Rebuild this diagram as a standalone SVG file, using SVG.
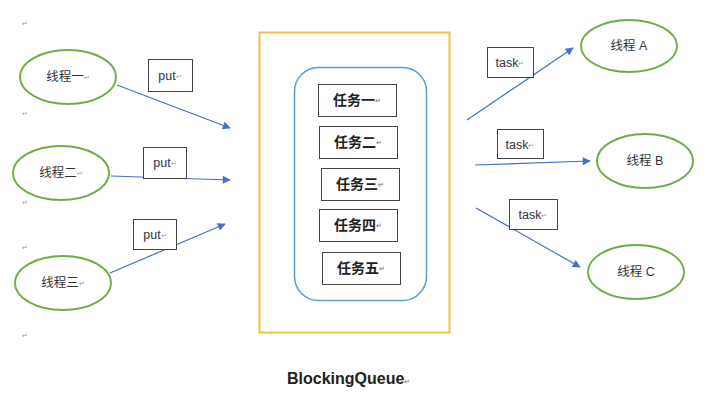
<svg xmlns="http://www.w3.org/2000/svg" width="712" height="403" viewBox="0 0 712 403">
<style>
text{font-family:"Liberation Sans","Noto Sans CJK SC",sans-serif;fill:#222}
.th{fill:none;stroke:#70AD47;stroke-width:1.8}
.lbl{fill:#fff;stroke:#444;stroke-width:1}
.t{font-size:12.5px;text-anchor:middle;dominant-baseline:central;fill:#333}
.tk{font-size:14px;font-weight:bold;text-anchor:middle;dominant-baseline:central}
.pm{font-size:7px;fill:#999}
.ar{fill:none;stroke:#4472C4;stroke-width:1.2;marker-end:url(#ah)}
</style>
<defs>
<marker id="ah" viewBox="0 0 10 10" refX="9" refY="5" markerWidth="9" markerHeight="8" markerUnits="userSpaceOnUse" orient="auto">
<path d="M0,0 L10,5 L0,10 Z" fill="#4472C4"/>
</marker>
</defs>
<rect width="712" height="403" fill="#fff"/>
<g id="marks">
<text class="pm" x="22" y="26">↵</text>
<text class="pm" x="22" y="116">↵</text>
<text class="pm" x="22" y="205">↵</text>
<text class="pm" x="22" y="250">↵</text>
<text class="pm" x="22" y="338">↵</text>
</g>
<g id="queue">
<rect x="259.5" y="32.5" width="190" height="300" fill="none" stroke="#F2C04A" stroke-width="2"/>
<rect x="294.5" y="67.5" width="132" height="233" rx="24" fill="none" stroke="#5B9BD5" stroke-width="1.5"/>
<text x="287" y="384" style="font-size:16px;font-weight:bold">BlockingQueue<tspan class="pm">↵</tspan></text>
</g>
<g id="task1"><rect class="lbl" x="318.5" y="84.5" width="78" height="32"/><text class="tk" x="357" y="100">任务一<tspan class="pm">↵</tspan></text></g>
<g id="task2"><rect class="lbl" x="319.5" y="126.5" width="78" height="32"/><text class="tk" x="358" y="142">任务二<tspan class="pm">↵</tspan></text></g>
<g id="task3"><rect class="lbl" x="321.5" y="168.5" width="78" height="32"/><text class="tk" x="360" y="184">任务三<tspan class="pm">↵</tspan></text></g>
<g id="task4"><rect class="lbl" x="319.5" y="209.5" width="78" height="32"/><text class="tk" x="358" y="225">任务四<tspan class="pm">↵</tspan></text></g>
<g id="task5"><rect class="lbl" x="322.5" y="252.5" width="78" height="32"/><text class="tk" x="361" y="268">任务五<tspan class="pm">↵</tspan></text></g>
<g id="t1"><ellipse class="th" cx="68" cy="77" rx="48" ry="27"/><text class="t" x="68" y="77">线程一<tspan class="pm">↵</tspan></text></g>
<g id="t2"><ellipse class="th" cx="61" cy="173" rx="48" ry="27"/><text class="t" x="61" y="173">线程二<tspan class="pm">↵</tspan></text></g>
<g id="t3"><ellipse class="th" cx="63" cy="283" rx="48" ry="27"/><text class="t" x="63" y="283">线程三<tspan class="pm">↵</tspan></text></g>
<g id="tA"><ellipse class="th" cx="629" cy="46" rx="48" ry="26"/><text class="t" x="629" y="46">线程 A</text></g>
<g id="tB"><ellipse class="th" cx="645" cy="161" rx="48" ry="27"/><text class="t" x="645" y="161">线程 B</text></g>
<g id="tC"><ellipse class="th" cx="636" cy="272" rx="48" ry="27"/><text class="t" x="636" y="272">线程 C</text></g>
<g id="connectors">
<line class="ar" x1="117" y1="85" x2="230" y2="128"/>
<line class="ar" x1="111" y1="176" x2="230" y2="180"/>
<line class="ar" x1="110" y1="273" x2="225" y2="224"/>
<line class="ar" x1="467" y1="120" x2="573" y2="48"/>
<line class="ar" x1="475" y1="165" x2="590" y2="161"/>
<line class="ar" x1="476" y1="208" x2="580" y2="267"/>
</g>
<g id="labels">
<g><rect class="lbl" x="148.5" y="59.5" width="44" height="32"/><text class="t" x="170" y="76">put<tspan class="pm">↵</tspan></text></g>
<g><rect class="lbl" x="143.5" y="147.5" width="43" height="31"/><text class="t" x="165" y="163">put<tspan class="pm">↵</tspan></text></g>
<g><rect class="lbl" x="133.5" y="219.5" width="43" height="30"/><text class="t" x="155" y="235">put<tspan class="pm">↵</tspan></text></g>
<g><rect class="lbl" x="487.5" y="47.5" width="46" height="30"/><text class="t" x="510" y="63">task<tspan class="pm">↵</tspan></text></g>
<g><rect class="lbl" x="497.5" y="129.5" width="46" height="29"/><text class="t" x="520" y="145">task<tspan class="pm">↵</tspan></text></g>
<g><rect class="lbl" x="509.5" y="199.5" width="48" height="30"/><text class="t" x="533" y="215">task<tspan class="pm">↵</tspan></text></g>
</g>
</svg>
